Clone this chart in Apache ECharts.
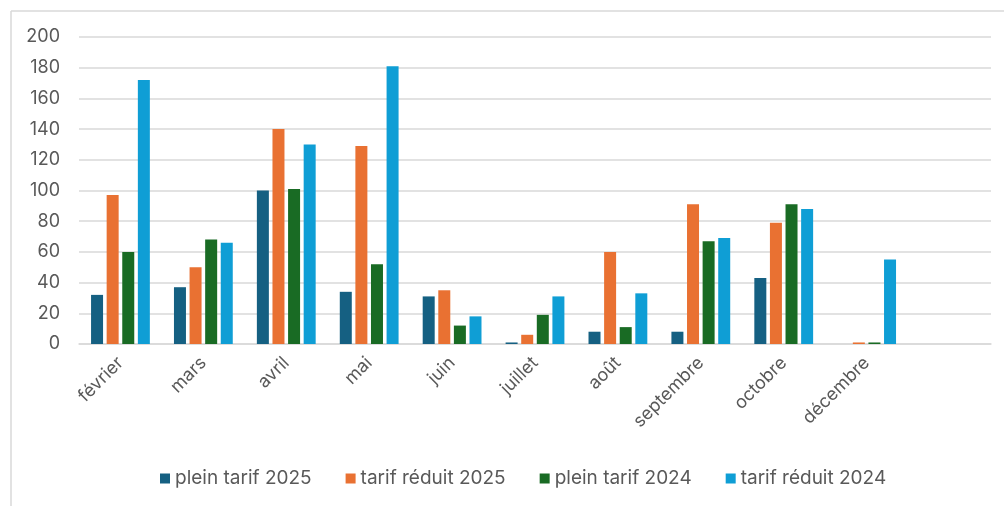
<!DOCTYPE html>
<html>
<head>
<meta charset="utf-8">
<script src="https://cdn.jsdelivr.net/npm/echarts@6/dist/echarts.min.js"></script>
<style>
  html, body { margin: 0; padding: 0; background: #ffffff; }
  #chart { width: 1004px; height: 506px; }
</style>
</head>
<body>
<div id="chart"></div>
<script>
// Months (the last slot is left empty)
const months = ['février', 'mars', 'avril', 'mai', 'juin', 'juillet', 'août', 'septembre', 'octobre', 'décembre', ''];

// Entries per month
const pleinTarif2025  = [32, 37, 100, 34, 31, 1, 8, 8, 43, 0, null];
const tarifReduit2025 = [97, 50, 140, 129, 35, 6, 60, 91, 79, 1, null];
const pleinTarif2024  = [60, 68, 101, 52, 12, 19, 11, 67, 91, 1, null];
const tarifReduit2024 = [172, 66, 130, 181, 18, 31, 33, 69, 88, 55, null];

const seriesNames = ['plein tarif 2025', 'tarif réduit 2025', 'plein tarif 2024', 'tarif réduit 2024'];
const seriesColors = ['#156082', '#E97132', '#196B24', '#0F9ED5'];
const seriesData = [pleinTarif2025, tarifReduit2025, pleinTarif2024, tarifReduit2024];

const textColor = '#595959';
const gridColor = '#d9d9d9';
const fontFamily = 'Inter, "Noto Sans", "Liberation Sans", sans-serif';

const chart = echarts.init(document.getElementById('chart'), null, { renderer: 'canvas' });

chart.setOption({
  animation: false,
  backgroundColor: '#ffffff',
  textStyle: { fontFamily: fontFamily },
  graphic: [
    { type: 'line', shape: { x1: 11, y1: 11, x2: 1004, y2: 11 }, style: { stroke: gridColor, lineWidth: 1.5 } },
    { type: 'line', shape: { x1: 11, y1: 11, x2: 11, y2: 506 }, style: { stroke: gridColor, lineWidth: 1.5 } }
  ],
  grid: { left: 79, right: 13, top: 37, bottom: 162, containLabel: false },
  legend: {
    bottom: 13,
    left: 155,
    itemWidth: 10,
    itemHeight: 10,
    itemGap: 34,
    icon: 'rect',
    textStyle: { color: textColor, fontSize: 19, fontFamily: fontFamily },
    data: seriesNames
  },
  xAxis: {
    type: 'category',
    data: months,
    axisLine: { show: true, lineStyle: { color: gridColor, width: 1.5 } },
    axisTick: { show: false },
    axisLabel: {
      color: textColor,
      fontSize: 18,
      rotate: 45,
      margin: 16,
      interval: 0,
      fontFamily: fontFamily
    }
  },
  yAxis: {
    type: 'value',
    min: 0,
    max: 200,
    interval: 20,
    axisLine: { show: false },
    axisTick: { show: false },
    splitLine: { lineStyle: { color: gridColor, width: 1.5 } },
    axisLabel: { color: textColor, fontSize: 18, margin: 19, fontFamily: fontFamily }
  },
  series: seriesData.map((d, i) => ({
    name: seriesNames[i],
    type: 'bar',
    data: d,
    barWidth: 12,
    barGap: '30%',
    itemStyle: { color: seriesColors[i] }
  }))
});
</script>
</body>
</html>
